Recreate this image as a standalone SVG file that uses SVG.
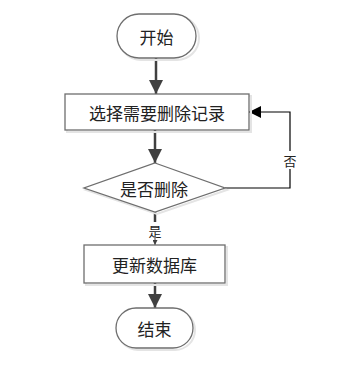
<svg xmlns="http://www.w3.org/2000/svg" width="338" height="365" viewBox="0 0 338 365">
<defs>
<style>
.sh{fill:#fff;stroke:#6e6e6e;stroke-width:1.3}
.shd{fill:none;stroke:#e4e4e4;stroke-width:2}
.t{font-family:"Noto Sans CJK SC","Noto Sans CJK JP",sans-serif;font-size:17px;fill:#222;text-anchor:middle;dominant-baseline:central}
.lb{font-family:"Noto Sans CJK SC","Noto Sans CJK JP",sans-serif;font-size:13px;fill:#222;text-anchor:middle;dominant-baseline:central}
.ln{fill:none;stroke:#404040;stroke-width:2.5}
.fb{fill:none;stroke:#000;stroke-width:1.2}
</style>
<marker id="ah" viewBox="0 0 10 10" refX="10" refY="5" markerWidth="5.6" markerHeight="5.6" orient="auto" markerUnits="strokeWidth"><path d="M0,0 L10,5 L0,10 z" fill="#404040"/></marker>
<marker id="ahb" viewBox="0 0 10 10" refX="10" refY="5" markerWidth="12" markerHeight="10" orient="auto" markerUnits="strokeWidth"><path d="M0,0 L10,5 L0,10 z" fill="#000"/></marker>
<marker id="ahs" viewBox="0 0 10 10" refX="10" refY="5" markerWidth="5" markerHeight="5" orient="auto" markerUnits="userSpaceOnUse"><path d="M0,0 L10,5 L0,10 z" fill="#404040"/></marker>
</defs>
<g id="connectors">
<line class="ln" x1="156" y1="58" x2="156" y2="94" marker-end="url(#ah)"/>
<line class="ln" x1="155" y1="130" x2="155" y2="163" marker-end="url(#ah)"/>
<line class="ln" x1="155" y1="212" x2="155" y2="222"/>
<line x1="155" y1="238" x2="155" y2="245" stroke="#404040" stroke-width="1" marker-end="url(#ahs)"/>
<line class="ln" x1="155" y1="283" x2="155" y2="308" marker-end="url(#ah)"/>
<polyline class="fb" points="225,188 290,188 290,112 249,112" marker-end="url(#ahb)"/>
<rect x="282" y="151" width="16" height="18" fill="#fff"/>
<text class="lb" x="290" y="160">否</text>
<text class="lb" x="155" y="230">是</text>
</g>
<g id="start">
<rect class="shd" x="119" y="16" width="80" height="44" rx="22"/>
<rect class="sh" x="117" y="14" width="79" height="44" rx="22"/>
<text class="t" x="156.5" y="36">开始</text>
</g>
<g id="select">
<rect class="shd" x="67" y="96" width="184" height="36"/>
<rect class="sh" x="65" y="94" width="184" height="36"/>
<text class="t" x="157" y="112">选择需要删除记录</text>
</g>
<g id="decide">
<polygon class="shd" points="157,165 227,190 157,214 86,190"/>
<polygon class="sh" points="155,163 225,188 155,212 84,188"/>
<text class="t" x="154" y="188">是否删除</text>
</g>
<g id="update">
<rect class="shd" x="86" y="247" width="141" height="38"/>
<rect class="sh" x="84" y="245" width="141" height="38"/>
<text class="t" x="154.5" y="264">更新数据库</text>
</g>
<g id="end">
<rect class="shd" x="118" y="310" width="77" height="40" rx="20"/>
<rect class="sh" x="116" y="308" width="77" height="40" rx="20"/>
<text class="t" x="154.5" y="328">结束</text>
</g>
</svg>
